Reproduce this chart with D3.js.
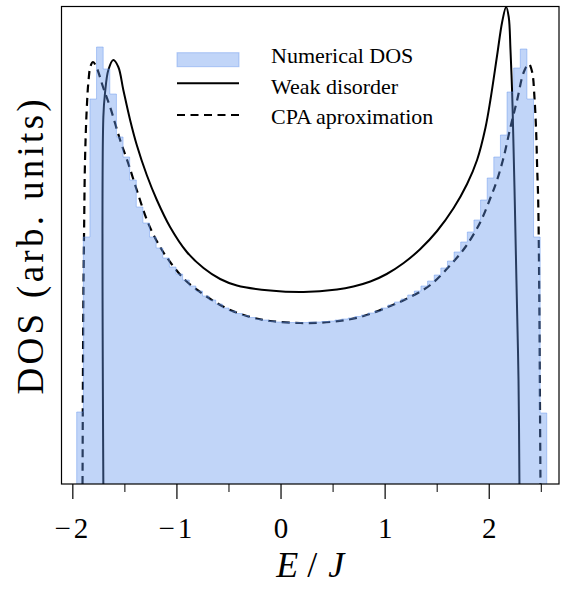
<!DOCTYPE html>
<html>
<head>
<meta charset="utf-8">
<script src="https://cdn.jsdelivr.net/npm/d3@7"></script>
<style>
  html, body { margin: 0; padding: 0; background: #fff; }
  svg { display: block; }
  text { font-family: "Liberation Serif", "DejaVu Serif", serif; fill: #000; }
</style>
</head>
<body>
<div id="chart"></div>
<script>
// histogram of the numerical DOS (bin heights, arb. units)
const binStart = -1.958;
const binWidth = 0.0636;
const dosCounts = [
  0.72, 2.47, 3.85, 4.37, 4.15, 3.90, 3.47, 3.27, 3.04, 2.77,
  2.61, 2.47, 2.36, 2.26, 2.17, 2.10, 2.04, 1.98, 1.93, 1.88,
  1.84, 1.80, 1.76, 1.73, 1.705, 1.685, 1.665, 1.65, 1.64, 1.63,
  1.62, 1.62, 1.615, 1.615, 1.615, 1.62, 1.62, 1.625, 1.63, 1.64,
  1.65, 1.66, 1.675, 1.69, 1.71, 1.73, 1.76, 1.79, 1.82, 1.85,
  1.89, 1.93, 1.98, 2.03, 2.09, 2.16, 2.23, 2.32, 2.42, 2.52,
  2.64, 2.84, 3.06, 3.27, 3.49, 3.92, 4.16, 4.35, 3.85, 2.47,
  0.71
];

// CPA approximation curve
const cpaE = [
  -1.902, -1.899, -1.894, -1.887, -1.878, -1.862, -1.844, -1.825, -1.801, -1.765,
  -1.705, -1.637, -1.541, -1.464, -1.381, -1.272, -1.157, -1.061, -0.917, -0.772,
  -0.628, -0.484, -0.292, -0.099, 0.189, 0.478, 0.766, 1.055, 1.247, 1.439,
  1.632, 1.776, 1.920, 2.016, 2.074, 2.144, 2.209, 2.273, 2.337, 2.385,
  2.417, 2.439, 2.456, 2.465, 2.475, 2.486, 2.492, 2.497
];
const cpaDos = [
  0, 0.84, 1.84, 2.54, 3.24, 3.74, 4.04, 4.18, 4.22, 4.16,
  3.97, 3.77, 3.44, 3.21, 2.94, 2.61, 2.37, 2.22, 2.04, 1.92,
  1.82, 1.74, 1.67, 1.63, 1.61, 1.62, 1.67, 1.78, 1.87, 1.99,
  2.19, 2.37, 2.62, 2.86, 3.02, 3.27, 3.57, 3.84, 4.12, 4.20,
  4.12, 3.87, 3.51, 3.17, 2.84, 1.84, 0.84, 0
];

// weak disorder curve
const weakE = [
  -1.702, -1.702, -1.686, -1.654, -1.606, -1.558, -1.510, -1.445, -1.381, -1.285,
  -1.188, -1.061, -0.900, -0.740, -0.580, -0.419, -0.099, 0.221, 0.542, 0.700,
  0.863, 1.020, 1.183, 1.343, 1.504, 1.663, 1.792, 1.888, 1.968, 2.016,
  2.081, 2.129, 2.167, 2.192, 2.209, 2.225, 2.235, 2.250, 2.266, 2.286,
  2.295
];
const weakDos = [
  0, 3.67, 3.91, 4.14, 4.24, 4.17, 3.94, 3.64, 3.39, 3.09,
  2.84, 2.57, 2.32, 2.16, 2.05, 1.985, 1.935, 1.92, 1.945, 1.975,
  2.025, 2.10, 2.21, 2.35, 2.53, 2.76, 3.00, 3.24, 3.56, 3.84,
  4.29, 4.62, 4.77, 4.67, 4.34, 3.91, 3.51, 2.84, 2.04, 1.04,
  0
];

const majorTicks = [-2, -1, 0, 1, 2];
const minorTicks = [-1.5, -0.5, 0.5, 1.5, 2.5];
const legendLabels = ["Numerical DOS", "Weak disorder", "CPA aproximation"];

const width = 561;
const height = 608;
const margin = {top: 6.5, right: 2, bottom: 124, left: 61.5};
const histColor = "cornflowerblue";

const svg = d3.select("#chart")
  .append("svg")
  .attr("width", width)
  .attr("height", height);

const x = d3.scaleLinear()
  .domain([-2.104, 2.675])
  .range([margin.left, width - margin.right]);

const y = d3.scaleLinear()
  .domain([0, 4.77])
  .range([height - margin.bottom, margin.top + 0.5]);

const plot = svg.append("g");

// curves first, histogram is laid over them with alpha
const line = d3.line()
  .x(d => x(d[0]))
  .y(d => y(d[1]))
  .curve(d3.curveCatmullRom.alpha(0.5));

const weakPts = weakE.map((e, i) => [e, weakDos[i]]);
const cpaPts = cpaE.map((e, i) => [e, cpaDos[i]]);

plot.append("path")
  .attr("d", line(weakPts))
  .attr("fill", "none")
  .attr("stroke", "#000")
  .attr("stroke-width", 2);

plot.append("path")
  .attr("d", line(cpaPts))
  .attr("fill", "none")
  .attr("stroke", "#000")
  .attr("stroke-width", 2.2)
  .attr("stroke-dasharray", "8,5.5");

// histogram as a stepfilled polygon
const edges = dosCounts.map((_, i) => binStart + i * binWidth);
const binEnd = binStart + dosCounts.length * binWidth;
const stepPts = edges.map((e, i) => [e, dosCounts[i]]);
stepPts.push([binEnd, dosCounts[dosCounts.length - 1]]);

const area = d3.area()
  .x(d => x(d[0]))
  .y0(y(0))
  .y1(d => y(d[1]))
  .curve(d3.curveStepAfter);

plot.append("path")
  .attr("d", area(stepPts))
  .attr("fill", histColor)
  .attr("fill-opacity", 0.4)
  .attr("stroke", "none");

const outline = [[binStart, 0]].concat(stepPts, [[binEnd, 0]]);
plot.append("path")
  .attr("d", d3.line().x(d => x(d[0])).y(d => y(d[1])).curve(d3.curveStepAfter)(outline))
  .attr("fill", "none")
  .attr("stroke", histColor)
  .attr("stroke-opacity", 0.45)
  .attr("stroke-width", 1);

// frame
svg.append("rect")
  .attr("x", x.range()[0])
  .attr("y", margin.top)
  .attr("width", x.range()[1] - x.range()[0])
  .attr("height", y(0) - margin.top)
  .attr("fill", "none")
  .attr("stroke", "#000")
  .attr("stroke-width", 1.2);

// x axis, major and minor ticks
const fmt = d => d < 0 ? "\u2212" + Math.abs(d) : String(d);

const xAxis = svg.append("g")
  .attr("transform", `translate(0,${y(0)})`)
  .call(d3.axisBottom(x).tickValues(majorTicks).tickSize(15).tickSizeOuter(0).tickFormat(fmt));
xAxis.select(".domain").remove();
xAxis.selectAll(".tick line").attr("stroke", "#000").attr("stroke-width", 1.2);
xAxis.selectAll(".tick text")
  .attr("y", 54)
  .attr("dy", null)
  .style("font-size", "29px")
  .style("letter-spacing", d => d < 0 ? "3px" : null)
  .style("font-family", "'Liberation Serif', serif");

const xMinor = svg.append("g")
  .attr("transform", `translate(0,${y(0)})`)
  .call(d3.axisBottom(x).tickValues(minorTicks).tickSize(8).tickSizeOuter(0).tickFormat(""));
xMinor.select(".domain").remove();
xMinor.selectAll(".tick line").attr("stroke", "#000").attr("stroke-width", 1);

// axis labels
const xLabel = svg.append("text")
  .attr("x", (x.range()[0] + x.range()[1]) / 2)
  .attr("y", 577)
  .attr("text-anchor", "middle")
  .style("font-size", "36px");
xLabel.append("tspan").style("font-style", "italic").text("E");
xLabel.append("tspan").attr("dx", 9).text("/");
xLabel.append("tspan").attr("dx", 11).style("font-style", "italic").text("J");

svg.append("text")
  .attr("transform", `translate(43,${(margin.top + y(0)) / 2}) rotate(-90)`)
  .attr("text-anchor", "middle")
  .style("font-size", "37px")
  .style("letter-spacing", "3.3px")
  .text("DOS (arb. units)");

// legend
const legend = svg.append("g");
const lx0 = 177, lx1 = 239, tx = 271;

legend.append("rect")
  .attr("x", lx0).attr("y", 52.7)
  .attr("width", lx1 - lx0).attr("height", 14)
  .attr("fill", histColor).attr("fill-opacity", 0.4)
  .attr("stroke", histColor).attr("stroke-opacity", 0.45);

legend.append("line")
  .attr("x1", lx0).attr("x2", lx1)
  .attr("y1", 83.3).attr("y2", 83.3)
  .attr("stroke", "#000").attr("stroke-width", 2);

legend.append("line")
  .attr("x1", lx0).attr("x2", lx1)
  .attr("y1", 115).attr("y2", 115)
  .attr("stroke", "#000").attr("stroke-width", 2.2)
  .attr("stroke-dasharray", "8,5.5");

legend.selectAll("text.leg")
  .data(legendLabels)
  .enter()
  .append("text")
  .attr("class", "leg")
  .attr("x", tx)
  .attr("y", (d, i) => 63.3 + i * 30.5)
  .style("font-size", "22px")
  .text(d => d);
</script>
</body>
</html>
